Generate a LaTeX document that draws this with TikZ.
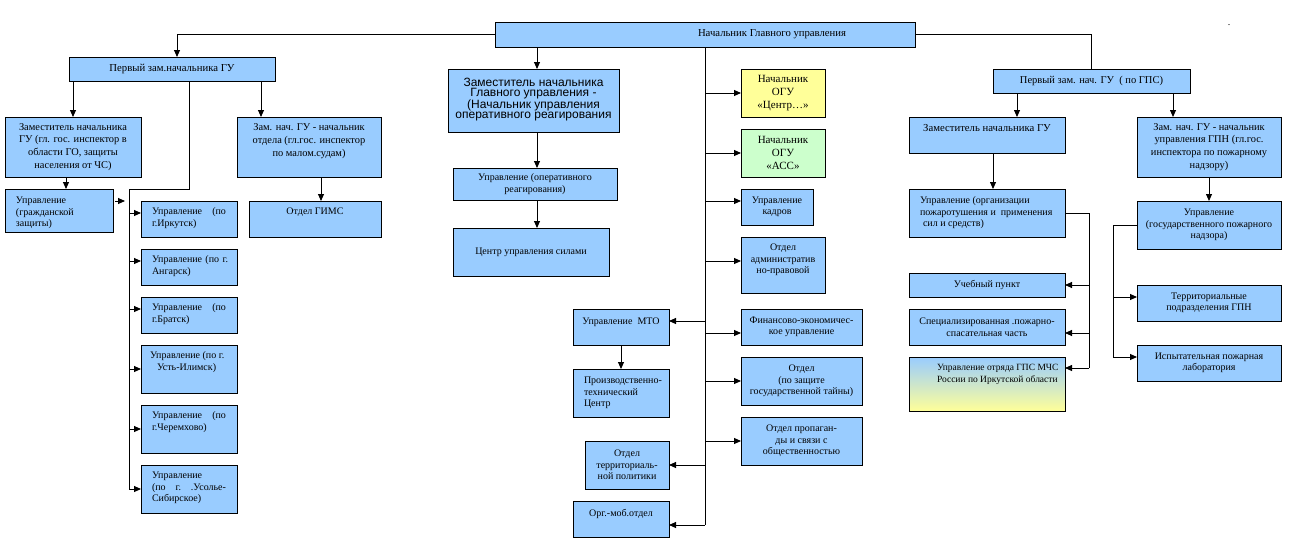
\documentclass[tikz,border=0pt]{standalone}
\usepackage{fontspec}
\setmainfont{Liberation Serif}
\setsansfont{Liberation Sans}
\usetikzlibrary{arrows.meta}
\definecolor{bblue}{HTML}{99CCFF}
\definecolor{byel}{HTML}{FFFF99}
\definecolor{bgreen}{HTML}{CCFFCC}
\newcommand\ob[8]{\node[box,#6,anchor=north west] (#1) at (#2,#3) {\parbox[c][#5pt][#7]{#4pt}{#8}};}
\newcommand\pt[3]{\path ([yshift=#3pt]#2) coordinate (#1);}
\newcommand\hd{\fontsize{10.7}{12}\selectfont}
\newcommand\md{\fontsize{10.4}{12.7}\selectfont}
\begin{document}
\begin{tikzpicture}[x=1pt,y=-1pt,
  box/.style={draw, line width=0.9pt, fill=bblue, inner sep=0pt, outer sep=0pt, font=\fontsize{10}{11.5}\selectfont},
  arr/.style={-{Triangle[length=7pt,width=6pt]}, line width=0.9pt},
  ln/.style={line width=0.9pt}]
\useasboundingbox[fill=white] (0,0) rectangle (1289,546);
% boxes
\ob{top}{495}{22}{420}{25}{}{c}{\hd\hspace*{203pt}Начальник Главного управления}
\ob{fz1}{69}{57}{206}{24}{}{c}{\centering\hd Первый зам.начальника ГУ}
\ob{zam1}{5}{117}{136}{60}{}{c}{\centering\md Заместитель начальника\\ ГУ (гл. гос. инспектор в\\ области ГО, защиты\\ населения от ЧС)}
\ob{ugz}{5}{189}{108}{43}{}{t}{\vspace*{8pt}\leftskip=11pt Управление\\(гражданской\\защиты)}
\ob{zamo}{237}{117}{144}{60}{}{t}{\vspace*{7pt}\centering\md Зам. нач. ГУ - начальник\\ отдела (гл.гос. инспектор\\ по малом.судам)}
\ob{gims}{249}{201}{132}{36}{}{t}{\vspace*{7pt}\centering Отдел ГИМС}
\ob{c1}{141}{201}{96}{36}{}{t}{\vspace*{7pt}\leftskip=11pt\rightskip=11pt Управление\hfill(по\\г.Иркутск)}
\ob{c2}{141}{249}{96}{36}{}{t}{\vspace*{7pt}\leftskip=11pt\rightskip=9pt Управление\hfill(по\hfill г.\\Ангарск)}
\ob{c3}{141}{297}{96}{36}{}{t}{\vspace*{7pt}\leftskip=11pt\rightskip=11pt Управление\hfill(по\\г.Братск)}
\ob{c4}{141}{345}{96}{48}{}{t}{\vspace*{7pt}\leftskip=9pt Управление (по г.\\\hspace*{7pt}Усть-Илимск)}
\ob{c5}{141}{405}{96}{48}{}{t}{\vspace*{7pt}\leftskip=11pt\rightskip=11pt Управление\hfill(по\\г.Черемхово)}
\ob{c6}{141}{465}{96}{48}{}{t}{\vspace*{7pt}\leftskip=11pt\rightskip=11pt Управление\\(по\hfill г.\hfill .Усолье-\\Сибирское)}
\ob{zgu}{448}{69}{171}{63}{}{t}{\vspace*{9pt}\centering\sffamily\fontsize{12}{9.8}\selectfont Заместитель начальника\\Главного управления -\\(Начальник управления\\оперативного реагирования}
\ob{uor}{453}{168}{164}{32}{}{c}{\centering Управление (оперативного\\ реагирования)}
\ob{cus}{453}{228}{156}{48}{}{c}{\centering Центр управления силами}
\ob{ogu1}{741}{69}{84}{48}{fill=byel}{c}{\centering\fontsize{11}{13}\selectfont Начальник\\ОГУ\\«Центр…»}
\ob{ogu2}{741}{129}{84}{48}{fill=bgreen}{c}{\centering\fontsize{11}{13}\selectfont Начальник\\ОГУ\\«АСС»}
\ob{kad}{741}{189}{72}{36}{}{c}{\centering Управление\\кадров}
\ob{adm}{741}{237}{84}{56}{}{t}{\vspace*{7pt}\centering Отдел\\административ\\но-правовой}
\ob{fin}{741}{309}{121}{36}{}{c}{\centering Финансово-экономичес-\\кое управление}
\ob{tai}{741}{357}{121}{48}{}{c}{\centering Отдел\\(по защите\\государственной тайны)}
\ob{pro}{741}{417}{121}{48}{}{c}{\centering Отдел пропаган-\\ды и связи с\\общественностью}
\ob{mto}{573}{309}{96}{36}{}{t}{\vspace*{9pt}\centering Управление\ \ МТО}
\ob{ptc}{573}{369}{96}{48}{}{t}{\vspace*{8pt}\leftskip=11pt Производственно-\\технический\\Центр}
\ob{ter}{585}{441}{84}{48}{}{c}{\centering Отдел\\территориаль-\\ной политики}
\ob{org}{573}{501}{96}{36}{}{t}{\vspace*{8pt}\centering Орг.-моб.отдел}
\ob{fz2}{993}{69}{197}{24}{}{c}{\centering\fontsize{10.5}{12}\selectfont Первый зам. нач. ГУ\ \ ( по ГПС)}
\ob{zam2}{909}{117}{156}{36}{}{t}{\vspace*{7pt}\centering\hd Заместитель начальника ГУ}
\ob{zgpn}{1137}{117}{144}{60}{}{c}{\centering\md Зам. нач. ГУ - начальник\\управления ГПН (гл.гос.\\инспектора по пожарному\\надзору)}
\ob{uop}{909}{189}{156}{48}{}{t}{\vspace*{8pt}\leftskip=11pt Управление (организации\\пожаротушения и\ \ применения\\\hspace*{3pt}сил и средств)}
\ob{ugpn}{1137}{201}{144}{48}{}{c}{\centering Управление\\(государственного пожарного\\надзора)}
\ob{ucp}{909}{273}{156}{24}{}{c}{\centering Учебный пункт}
\ob{spch}{909}{309}{156}{36}{}{c}{\centering Специализированная .пожарно-\\спасательная часть}
\ob{otr}{909}{357}{156}{54}{top color=bblue,bottom color=byel}{t}{\vspace*{7pt}\leftskip=28pt\fontsize{9.5}{12}\selectfont Управление отряда ГПС МЧС\\России по Иркутской области}
\ob{ter2}{1137}{285}{144}{36}{}{c}{\centering Территориальные\\подразделения ГПН}
\ob{isp}{1137}{345}{144}{36}{}{c}{\centering Испытательная пожарная\\лаборатория}
\node[font=\fontsize{10}{11}\selectfont, inner sep=0pt] (dot) at (1229,25) {.};
% connectors: top
\draw[arr] (top.west) -| ([xshift=5pt]fz1.north);
\draw[ln] (top.east) -| (fz2.north);
% left group
\draw[arr] (zam1.north |- fz1.south) -- (zam1.north);
\draw[arr] ([xshift=-48pt]zamo.north |- fz1.south) -- ([xshift=-48pt]zamo.north);
\draw[arr] ([xshift=7pt]ugz.north |- zam1.south) -- ([xshift=7pt]ugz.north);
\draw[arr] ([shift={(2pt,9.5pt)}]ugz.east) -- ([shift={(12pt,9.5pt)}]ugz.east);
\draw[arr] ([xshift=12pt]zamo.south) -- ([xshift=12pt]zamo.south |- gims.north);
\coordinate (busT) at (129,189);
\coordinate (busB) at (129,489);
\draw[ln] ([xshift=17pt]fz1.south) |- (busT) -- (busB);
\pt{c1e}{c1.west}{6} \pt{c2e}{c2.west}{6} \pt{c3e}{c3.west}{6}
\pt{c4e}{c4.west}{0} \pt{c5e}{c5.west}{0} \pt{c6e}{c6.west}{0}
\foreach \c in {c1e,c2e,c3e,c4e,c5e,c6e} \draw[arr] (busT |- \c) -- (\c);
% middle
\draw[arr] ([xshift=3.5pt]zgu.north |- top.south) -- ([xshift=3.5pt]zgu.north);
\draw[arr] ([xshift=3.5pt]zgu.south) -- ([xshift=3.5pt]zgu.south |- uor.north);
\draw[arr] ([xshift=2pt]uor.south) -- ([xshift=2pt]uor.south |- cus.north);
\coordinate (vB) at (705,525);
\draw[ln] (top.south) -- (vB);
\pt{e1}{ogu1.west}{0} \pt{e2}{ogu2.west}{0} \pt{e3}{kad.west}{6} \pt{e4}{adm.west}{4}
\pt{e5}{fin.west}{-6} \pt{e6}{tai.west}{0} \pt{e7}{pro.west}{0}
\foreach \c in {e1,e2,e3,e4,e5,e6,e7} \draw[arr] (vB |- \c) -- (\c);
\pt{w1}{mto.east}{6} \pt{w2}{ter.east}{0} \pt{w3}{org.east}{-6}
\foreach \c in {w1,w2,w3} \draw[arr] (vB |- \c) -- (\c);
\draw[arr] (mto.south) -- (ptc.north);
% right group
\draw[arr] ([xshift=30pt]zam2.north |- fz2.south) -- ([xshift=30pt]zam2.north);
\draw[arr] ([xshift=-36pt]zgpn.north |- fz2.south) -- ([xshift=-36pt]zgpn.north);
\draw[arr] ([xshift=6pt]zam2.south) -- ([xshift=6pt]zam2.south |- uop.north);
\draw[arr] (zgpn.south) -- (ugpn.north);
\coordinate (r1B) at (1089,368);
\draw[ln] (uop.east) -| (r1B);
\pt{r1}{ucp.east}{0} \pt{r2}{spch.east}{-6} \pt{r3}{otr.east}{16}
\foreach \c in {r1,r2,r3} \draw[arr] (r1B |- \c) -- (\c);
\coordinate (r2B) at (1113,357);
\draw[ln] (ugpn.west) -| (r2B);
\pt{s1}{ter2.west}{6} \pt{s2}{isp.west}{6}
\foreach \c in {s1,s2} \draw[arr] (r2B |- \c) -- (\c);
\end{tikzpicture}
\end{document}
